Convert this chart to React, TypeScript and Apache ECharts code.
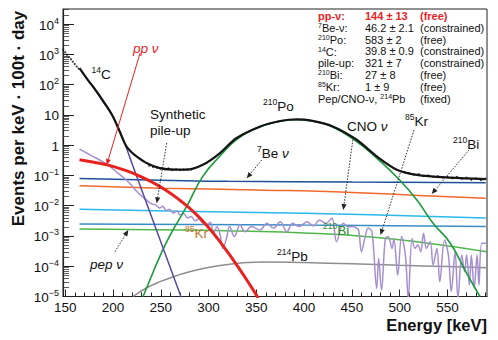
import React, { useEffect, useRef } from 'react';
import * as echarts from 'echarts';

const FONT = '"Liberation Sans", Arial, Helvetica, sans-serif';

// Axis ticks / labels
const xMajorTicks = [150, 200, 250, 300, 350, 400, 450, 500, 550];
const xMinorTicks = [160, 170, 180, 190, 210, 220, 230, 240, 260, 270, 280, 290, 310, 320, 330, 340, 360, 370, 380, 390, 410, 420, 430, 440, 460, 470, 480, 490, 510, 520, 530, 540, 560, 570, 580, 590];
const yMajorTicks = [1e-5, 1e-4, 1e-3, 1e-2, 1e-1, 1, 10, 100, 1000, 10000];
const yMinorTicks: number[] = [];
[1e-5, 1e-4, 1e-3, 1e-2, 1e-1, 1, 10, 100, 1000, 10000].forEach((d) => {
  [2, 3, 4, 5, 6, 7, 8, 9].forEach((k) => {
    const v = +(d * k).toPrecision(3);
    if (v < 31622) yMinorTicks.push(v);
  });
});

// Series: [energy keV, events per keV per 100t per day]
const totalFit = [[165, 355], [175, 126], [180, 79.4], [190, 28.2], [200, 8.91], [207, 2.82], [214, 0.912], [220, 0.562], [225, 0.417], [235, 0.257], [249, 0.174], [265, 0.155], [277, 0.155], [294, 0.224], [312, 0.55], [329, 1.7], [354, 4.17], [375, 6.31], [393, 7.08], [406, 6.61], [430, 4.17], [455, 1.51], [476, 0.427], [497, 0.155], [518, 0.105], [553, 0.0851], [590, 0.0759]];

const dataPoints = [[148, 1410], [150, 1175], [152, 977], [154, 813], [156, 692], [158, 575], [160, 479], [162, 398], [164, 339],
  [238, 0.21], [242, 0.19], [246, 0.18], [250, 0.17], [254, 0.16], [258, 0.17], [262, 0.15], [266, 0.16], [270, 0.15], [274, 0.155], [278, 0.16], [282, 0.16],
  [505, 0.13], [510, 0.12], [515, 0.105], [520, 0.11], [525, 0.095], [530, 0.1], [535, 0.09], [540, 0.095], [545, 0.085], [550, 0.09], [555, 0.08], [560, 0.09], [565, 0.078], [570, 0.085], [575, 0.072], [580, 0.08], [585, 0.07], [590, 0.078]];

const carbon14 = [[165, 339], [180, 75.9], [190, 26.3], [200, 8.51], [210, 1.78], [220, 0.245], [230, 0.0339], [240, 0.00468], [250, 0.000646], [260, 8.91e-5], [272, 8.32e-6]];

const ppNu = [[165, 0.331], [180, 0.275], [195, 0.219], [210, 0.158], [225, 0.105], [240, 0.0617], [255, 0.0331], [270, 0.0151], [285, 0.00603], [300, 0.00191], [315, 0.000479], [330, 0.000105], [345, 2.0e-5], [352, 8.9e-6]];

const be7Nu = [[165, 0.0794], [250, 0.07], [320, 0.064], [450, 0.0612], [590, 0.0575]];
const bi210 = [[165, 0.0457], [250, 0.038], [350, 0.0331], [450, 0.0275], [520, 0.0219], [590, 0.0178]];
const cnoNu = [[165, 0.00759], [270, 0.00661], [400, 0.00562], [470, 0.00501], [590, 0.00389]];
const pepNu = [[165, 0.00251], [400, 0.00229], [590, 0.00204]];
const kr85 = [[165, 0.0017], [270, 0.00158], [330, 0.00145], [400, 0.00126], [470, 0.000933], [530, 0.000575], [591, 0.000302]];

const po210 = [[231.5, 1.0e-5], [240, 4.47e-5], [247, 0.000151], [259, 0.000955], [277, 0.00933], [294, 0.0933], [312, 0.437], [330, 1.58], [350, 3.55], [370, 5.75], [390, 6.92], [410, 6.17], [430, 3.98], [455, 1.32], [476, 0.372], [500, 0.0708], [518, 0.0155], [535, 0.00263], [553, 0.000575], [570, 5.89e-5], [584, 1.0e-5]];

const pb214 = [[221, 1.0e-5], [235, 1.91e-5], [250, 3.16e-5], [265, 4.68e-5], [280, 6.61e-5], [300, 9.12e-5], [320, 0.000115], [340, 0.000132], [355, 0.000138], [400, 0.000132], [450, 0.00012], [500, 0.000107], [550, 9.77e-5], [591, 8.91e-5]];

const pileUp = [[165, 0.741], [172, 0.562], [179, 0.427], [188, 0.302], [197, 0.195], [205, 0.12], [214, 0.0708], [220, 0.0447], [225, 0.0295], [230, 0.0209], [235, 0.0155], [240, 0.0117], [245, 0.0105], [249, 0.00832], [252, 0.00955], [256, 0.00692], [259, 0.00759], [263, 0.00575], [267, 0.00661], [270, 0.00501], [274, 0.0055], [278, 0.00398], [282, 0.00437], [286, 0.00316], [290, 0.00363], [294, 0.00263], [298, 0.0024], [302, 0.00282], [305, 0.00123], [309, 0.002], [312, 0.00112], [315, 0.000389], [319, 0.000891], [322, 0.00204], [327, 0.000955], [333, 0.00234], [338, 0.00138], [345, 0.00204], [354, 0.00158], [361, 0.00263], [368, 0.00182], [375, 0.00295], [382, 0.00138], [388, 0.00263], [395, 0.00204], [403, 0.00295], [410, 0.00214], [416, 0.00339], [423, 0.00263], [429, 0.00389], [434, 0.000646], [441, 0.00263], [446, 0.002], [451, 0.00204], [454, 0.00191], [457, 0.00158], [460, 0.000302], [464, 0.000955], [467, 0.00182], [471, 0.00138], [476, 1.86e-5], [478, 0.000182], [481, 1.62e-5], [485, 0.000832], [488, 0.000955], [492, 0.000389], [494, 0.000832], [498, 5.13e-5], [502, 0.000955], [506, 0.000234], [509, 8.7e-6], [513, 0.000832], [516, 0.000389], [519, 0.000501], [522, 0.000302], [525, 0.00123], [528, 0.000389], [532, 0.000646], [535, 0.00011], [539, 0.000389], [542, 3.09e-5], [547, 0.000741], [551, 0.000234], [554, 1.45e-5], [558, 0.000302], [561, 8.7e-6], [565, 0.000234], [568, 6.61e-5], [570, 0.000234], [573, 2.4e-5], [575, 0.000234], [578, 1.86e-5], [581, 0.000234], [583, 2.4e-5], [586, 0.000575], [591, 0.000575]];

// Fit results table
const fitNames = ['{r|pp-ν:}', '{s|7}{b|Be-ν:}', '{s|210}{b|Po:}', '{s|14}{b|C:}', '{b|pile-up:}', '{s|210}{b|Bi:}', '{s|85}{b|Kr:}', '{b|Pep/CNO-ν, }{s|214}{b|Pb}'];
const fitValues = ['144 ± 13', '46.2 ± 2.1', '583 ± 2', '39.8 ± 0.9', '321 ± 7', '27 ± 8', '1 ± 9', ''];
const fitStatus = ['(free)', '(constrained)', '(free)', '(constrained)', '(constrained)', '(free)', '(free)', '(fixed)'];

const annRich = (color: string) => ({
  b: { fontSize: 13.5, lineHeight: 16, verticalAlign: 'bottom', fontFamily: FONT, fill: color, color },
  i: { fontSize: 13.5, lineHeight: 16, verticalAlign: 'bottom', fontFamily: FONT, fontStyle: 'italic', fill: color, color },
  s: { fontSize: 8.5, lineHeight: 10, verticalAlign: 'top', fontFamily: FONT, fill: color, color },
});

function arrow(x1: number, y1: number, x2: number, y2: number, color: string, dashed: boolean) {
  const dx = x2 - x1, dy = y2 - y1;
  const len = Math.hypot(dx, dy);
  const ux = dx / len, uy = dy / len;
  const hl = 6, hw = 2.6;
  const bx = x2 - ux * hl, by = y2 - uy * hl;
  return [
    { type: 'line', silent: true, z: 50, shape: { x1, y1, x2: bx, y2: by }, style: { stroke: color, lineWidth: dashed ? 0.9 : 1, lineDash: dashed ? [1.6, 1.4] : null } },
    { type: 'polygon', silent: true, z: 50, shape: { points: [[x2, y2], [bx - uy * hw, by + ux * hw], [bx + uy * hw, by - ux * hw]] }, style: { fill: color } },
  ];
}

function label(x: number, y: number, text: string, color = '#111') {
  return { type: 'text', x, y, z: 50, silent: true, style: { text, rich: annRich(color), align: 'left', verticalAlign: 'middle', fill: color } };
}

export default function App() {
  const ref = useRef<HTMLDivElement>(null);
  useEffect(() => {
    if (!ref.current) return;
    const chart = echarts.init(ref.current, null, { renderer: 'svg' });
    const line = (name: string, data: number[][], color: string, width: number, z: number, smooth: number | boolean = true) => ({
      name, type: 'line', data, showSymbol: false, smooth, z, silent: true, clip: true,
      lineStyle: { color, width }, itemStyle: { color },
    });
    const legendRows: any[] = [];
    fitNames.forEach((n, i) => {
      const y = 16 + i * 11.8;
      const red = i === 0;
      const rich = {
        r: { fontSize: 11, lineHeight: 11.5, verticalAlign: 'bottom', fontFamily: FONT, fontWeight: 'bold', fill: '#e8231f' },
        b: { fontSize: 11, lineHeight: 11.5, verticalAlign: 'bottom', fontFamily: FONT, fill: '#111' },
        s: { fontSize: 7, lineHeight: 8, verticalAlign: 'top', fontFamily: FONT, fill: '#111' },
      };
      legendRows.push({ type: 'text', x: 318, y, z: 60, silent: true, style: { text: n, rich, align: 'left', verticalAlign: 'middle' } });
      if (fitValues[i]) legendRows.push({ type: 'text', x: 365, y, z: 60, silent: true, style: { text: fitValues[i], fontSize: 11, lineHeight: 11.5, fontFamily: FONT, fontWeight: red ? 'bold' : 'normal', fill: red ? '#e8231f' : '#111', align: 'left', verticalAlign: 'middle' } });
      legendRows.push({ type: 'text', x: 420, y, z: 60, silent: true, style: { text: fitStatus[i], fontSize: 11, lineHeight: 11.5, fontFamily: FONT, fontWeight: red ? 'bold' : 'normal', fill: red ? '#e8231f' : '#111', align: 'left', verticalAlign: 'middle' } });
    });

    const option: any = {
      animation: false,
      backgroundColor: '#ffffff',
      grid: { left: 63, top: 9, width: 424, height: 287.5, show: true, borderColor: '#222', borderWidth: 1, backgroundColor: 'transparent' },
      xAxis: [
        {
          type: 'value', min: 147.7, max: 591.4,
          axisLine: { show: true, lineStyle: { color: '#222', width: 1.2 } },
          axisTick: { show: true, inside: true, length: 7, customValues: xMajorTicks, lineStyle: { color: '#222', width: 1 } },
          axisLabel: { customValues: xMajorTicks, fontSize: 13.5, lineHeight: 14, color: '#111', fontFamily: FONT, margin: 4 },
          splitLine: { show: false },
        },
        {
          type: 'value', min: 147.7, max: 591.4, position: 'bottom',
          axisLine: { show: false },
          axisTick: { show: true, inside: true, length: 4, customValues: xMinorTicks, lineStyle: { color: '#222', width: 1 } },
          axisLabel: { show: false },
          splitLine: { show: false },
        },
      ],
      yAxis: [
        {
          type: 'log', logBase: 10, min: 1e-5, max: 31622.7766,
          axisLine: { show: true, lineStyle: { color: '#222', width: 1.2 } },
          axisTick: { show: true, inside: true, length: 11, customValues: yMajorTicks, lineStyle: { color: '#222', width: 1 } },
          axisLabel: {
            customValues: yMajorTicks, margin: 4, color: '#111',
            formatter: (v: number) => {
              const e = Math.round(Math.log10(v));
              if (e === 0) return '{b|1}';
              if (e === 1) return '{b|10}';
              return '{b|10}{s|' + (e < 0 ? '−' + -e : String(e)) + '}';
            },
            rich: {
              b: { fontSize: 13.5, lineHeight: 16, verticalAlign: 'bottom', fontFamily: FONT, color: '#111' },
              s: { fontSize: 9, lineHeight: 10, verticalAlign: 'top', fontFamily: FONT, color: '#111' },
            },
          },
          splitLine: { show: false },
        },
        {
          type: 'log', logBase: 10, min: 1e-5, max: 31622.7766, position: 'left',
          axisLine: { show: false },
          axisTick: { show: true, inside: true, length: 6, customValues: yMinorTicks, lineStyle: { color: '#333', width: 0.8 } },
          axisLabel: { show: false },
          splitLine: { show: false },
        },
      ],
      series: [
        line('214Pb', pb214, '#8e8e8e', 1.5, 2),
        line('7Be', be7Nu, '#1d4f9a', 1.5, 3),
        line('210Bi', bi210, '#f0682a', 1.5, 3),
        line('CNO', cnoNu, '#29b9ea', 1.5, 3),
        line('pep', pepNu, '#3a8cc6', 1.5, 3),
        line('85Kr', kr85, '#4db848', 1.5, 3),
        line('pile-up', pileUp, '#a68fd0', 1.5, 4, 0.35),
        line('210Po', po210, '#1a9a3c', 1.6, 5),
        line('14C', carbon14, '#5749a3', 1.5, 6),
        line('pp', ppNu, '#e8231f', 3, 7),
        line('total', totalFit, '#141414', 2.2, 8, 0.3),
        {
          name: 'data', type: 'scatter', data: dataPoints, symbol: 'circle', symbolSize: 2.2, z: 9, silent: true,
          itemStyle: { color: '#111' },
        },
      ],
      graphic: [
        { type: 'text', x: 18, y: 118.5, rotation: Math.PI / 2, silent: true, style: { text: 'Events per keV · 100t · day', fontSize: 17, fontWeight: 'bold', fontFamily: FONT, fill: '#111', align: 'center', verticalAlign: 'middle' } },
        { type: 'text', x: 487, y: 324.5, silent: true, style: { text: 'Energy [keV]', fontSize: 16.5, lineHeight: 17, fontWeight: 'bold', fontFamily: FONT, fill: '#111', align: 'right', verticalAlign: 'middle' } },
        ...legendRows,
        label(91.5, 73, '{s|14}{b|C}'),
        label(133, 47, '{i|pp ν}', '#e8231f'),
        label(150, 113, '{b|Synthetic}'),
        label(150, 129, '{b|pile-up}'),
        label(263, 105, '{s|210}{b|Po}'),
        label(257, 152, '{s|7}{b|Be }{i|ν}'),
        label(347, 125, '{b|CNO }{i|ν}'),
        label(405, 120, '{s|85}{b|Kr}'),
        label(453, 143, '{s|210}{b|Bi}'),
        label(90, 263, '{i|pep ν}'),
        label(185, 232, '{s|85}{b|Kr}', '#c8742c'),
        label(323, 229, '{s|210}{b|Bi}', '#2b8a2b'),
        label(277, 255, '{s|214}{b|Pb}'),
        ...arrow(140, 53.3, 106.7, 165, '#e8231f', false),
        ...arrow(166.7, 143, 156.7, 203.3, '#222', true),
        ...arrow(261.7, 160, 246.7, 178.3, '#222', true),
        ...arrow(353.3, 136.7, 343.3, 210, '#222', true),
        ...arrow(414, 130, 380.5, 235, '#222', true),
        ...arrow(469, 150, 431.7, 194, '#222', true),
        ...arrow(115, 251.7, 128.3, 230, '#222', true),
      ],
    };
    chart.setOption(option);
    return () => chart.dispose();
  }, []);
  return <div ref={ref} style={{ position: 'fixed', left: 0, top: 0, width: 498, height: 340, background: '#fff' }} />;
}
